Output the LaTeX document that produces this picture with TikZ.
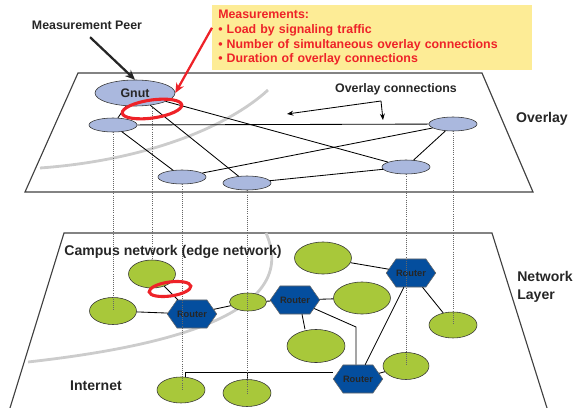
\documentclass[tikz,border=0pt]{standalone}
\usepackage{fontspec}
\setmainfont{Liberation Sans}
\usetikzlibrary{shapes.geometric,shapes.symbols,arrows.meta}

\definecolor{peerblue}{RGB}{170,184,222}
\definecolor{hostgreen}{RGB}{168,200,58}
\definecolor{routerblue}{RGB}{4,78,158}
\definecolor{notered}{RGB}{238,34,40}
\definecolor{noteyellow}{RGB}{253,236,150}

\begin{document}
\begin{tikzpicture}[x=0.025cm, y=-0.025cm,
    peer/.style={ellipse, draw=black!80, fill=peerblue, inner sep=0pt, minimum width=1.2cm, minimum height=0.35cm},
    host/.style={ellipse, draw=black!80, fill=hostgreen, inner sep=0pt},
    router/.style={signal, signal to=east and west, signal pointer angle=110, draw=black!60, fill=routerblue,
        inner sep=0pt, minimum width=1.2cm, minimum height=0.7cm, text=black!85,
        font=\fontsize{6.6}{7}\selectfont\bfseries},
    link/.style={draw=black, line width=0.6pt},
    vert/.style={densely dotted, black!60, line width=0.5pt},
    plane/.style={draw=black!75, line width=0.8pt},
    lbl/.style={font=\fontsize{10}{12.8}\selectfont\bfseries, text=black!85},
    smalltxt/.style={font=\fontsize{8.8}{10.5}\selectfont\bfseries, text=black!85},
    ring/.style={ellipse, draw=notered, line width=2.2pt, inner sep=0pt},
    edgearc/.style={draw=black!20, line width=2pt},
]
\useasboundingbox (0,0) rectangle (575,408);

% the two planes
\draw[plane] (78,73) -- (482,73) -- (533,192) -- (25,192) -- cycle;
\draw[plane] (10,408) -- (64,233) -- (492,233) -- (547,408);

% border of the campus network, seen on both planes
\draw[edgearc] (40,168) .. controls (150,160) and (230,125) .. (268,90);
\draw[edgearc] (28,362) .. controls (180,345) and (300,310) .. (266,233);

%Overlay peers
\node[peer, minimum width=2cm, minimum height=0.65cm, smalltxt] (gnut) at (135,93) {Gnut};
\node[peer] (a) at (113,125) {};
\node[peer] (b) at (182,177) {};
\node[peer] (c) at (247,183) {};
\node[peer] (d) at (453,124) {};
\node[peer] (e) at (406,167) {};

\draw[link] (a) -- (d);
\draw[link] (a) -- (gnut);
\draw[link] (a) -- (b);
\draw[link] (gnut) -- (c);
\draw[link] (gnut) -- (e);
\draw[link] (b) -- (d);
\draw[link] (c) -- (e);
\draw[link] (d) -- (e);

%Network hosts and routers
\node[host, minimum width=1.175cm, minimum height=0.675cm] (n1) at (113,311) {};
\node[host, minimum width=1.175cm, minimum height=0.7cm] (n2) at (152,274) {};
\node[host, minimum width=0.925cm, minimum height=0.45cm] (n3) at (248,302) {};
\node[host, minimum width=1.2cm, minimum height=0.65cm] (i1) at (181,390) {};
\node[host, minimum width=1.2cm, minimum height=0.675cm] (i2) at (247,393) {};
\node[host, minimum width=1.425cm, minimum height=0.8cm] (g1) at (323,258) {};
\node[host, minimum width=1.425cm, minimum height=0.8cm] (g2) at (362,298) {};
\node[host, minimum width=1.45cm, minimum height=0.825cm] (g3) at (316,346) {};
\node[host, minimum width=1.15cm, minimum height=0.675cm] (n8) at (406,366) {};
\node[host, minimum width=1.2cm, minimum height=0.65cm] (n9) at (453,325) {};

\node[router] (r1) at (192,314) {Router};
\node[router] (r2) at (295,300) {Router};
\node[router] (r3) at (411,273) {Router};
\node[router] (r4) at (358,379) {Router};

\coordinate (bend) at (356,327);
\coordinate (bus) at (185,372);

\draw[link] (n1) -- (r1);
\draw[link] (n2) -- (r1);
\draw[link] (r1) -- (n3);
\draw[link] (n3) -- (r2);
\draw[link] (r2) -- (g2);
\draw[link] ([xshift=0.175cm]r2.south) -- ([xshift=-0.275cm]g3.north);
\draw[link] (r2) -- (bend) -- (bend |- r4.north);
\draw[link] (g1) -- (r3);
\draw[link] (r3) -- (r4);
\draw[link] (r3) -- (n9);
\draw[link] (r4) -- (n8);
\draw[link] (bus |- i1.north) -- (bus) -- (bus -| r4.west);
\draw[link] (i2.north) -- (i2.north |- bus);

% peers sit on top of hosts
\draw[vert] (a.south) -- (n1.center);
\draw[vert] (gnut.south -| n2) -- (n2.north);
\draw[vert] (b.south) -- (b |- i1);
\draw[vert] (c.south) -- (c |- i2);
\draw[vert] (e.south) -- (e |- n8);
\draw[vert] (d.south) -- (d |- n9);

% labels
\node[smalltxt] (peerlbl) at (87,25) {Measurement Peer};
\node[smalltxt] (ovcon) at (396,89) {Overlay connections};
\node[lbl] (ovl) at (542,119) {Overlay};
\node[lbl, align=left, anchor=west, inner sep=0pt] (netl) at (517,287) {Network\\Layer};
\node[lbl] (campus) at (173,252) {Campus network (edge network)};
\node[lbl] (inet) at (96,386) {Internet};

\coordinate (fork) at (381,101);
\coordinate (tipl) at (287,114);
\coordinate (tipd) at (383,120);
\draw[line width=0.6pt, -{Stealth[length=4.5pt,width=3.5pt]}] (fork) -- (tipl);
\draw[line width=0.6pt, -{Stealth[length=4.5pt,width=3.5pt]}] (fork) -- (tipd);

\draw[line width=1.6pt, black!85, shorten <=3pt, -{Stealth[length=7pt,width=6pt]}] (peerlbl.south) -- (gnut.north);

% what gets measured
\node[ring, minimum width=1.5cm, minimum height=0.45cm, rotate=8] (ring1) at (152,109) {};
\node[ring, minimum width=1.05cm, minimum height=0.35cm, rotate=8] (ring2) at (170,289) {};

\node[fill=noteyellow, anchor=north west, text width=7.7cm, inner xsep=0.15cm, minimum height=1.625cm,
      align=left, text=notered, font=\fontsize{8.8}{10.5}\selectfont\bfseries] (meas) at (212,5)
    {Measurements:\\
     • Load by signaling traffic\\
     • Number of simultaneous overlay connections\\
     • Duration of overlay connections};
\draw[line width=1.6pt, notered, -{Stealth[length=7pt,width=6pt]}] ([yshift=0.25cm]meas.west) -- (gnut.east);

\end{tikzpicture}
\end{document}
